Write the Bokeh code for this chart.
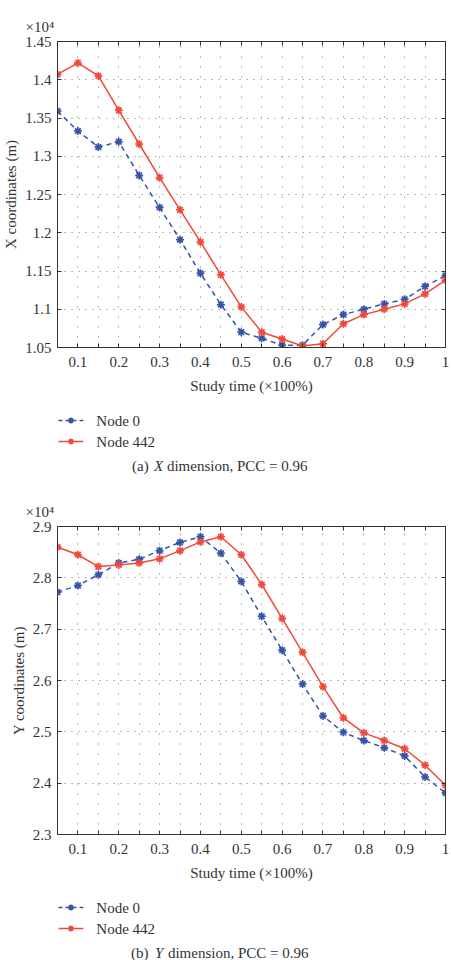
from bokeh.plotting import figure
from bokeh.layouts import column
from bokeh.models import (FixedTicker, LinearAxis, Range1d,
                          CustomJSTickFormatter, Title)
from bokeh.core.properties import value
from bokeh.embed import file_html
from bokeh.resources import INLINE

# ---------------- data ----------------
study_time = [0.05, 0.10, 0.15, 0.20, 0.25, 0.30, 0.35, 0.40, 0.45, 0.50,
              0.55, 0.60, 0.65, 0.70, 0.75, 0.80, 0.85, 0.90, 0.95, 1.00]

# X coordinates (x10^4 m)
node0_x = [1.359, 1.333, 1.312, 1.319, 1.275, 1.233, 1.191, 1.147, 1.106, 1.070,
           1.062, 1.053, 1.053, 1.080, 1.093, 1.100, 1.107, 1.113, 1.130, 1.144]
node442_x = [1.407, 1.422, 1.405, 1.360, 1.316, 1.272, 1.230, 1.188, 1.145, 1.103,
             1.070, 1.061, 1.052, 1.055, 1.081, 1.093, 1.100, 1.107, 1.120, 1.138]

# Y coordinates (x10^4 m)
node0_y = [2.772, 2.785, 2.806, 2.829, 2.836, 2.853, 2.869, 2.880, 2.848, 2.793,
           2.725, 2.659, 2.593, 2.531, 2.499, 2.483, 2.469, 2.453, 2.412, 2.381]
node442_y = [2.860, 2.845, 2.822, 2.825, 2.829, 2.837, 2.853, 2.870, 2.880, 2.845,
             2.787, 2.721, 2.655, 2.588, 2.527, 2.498, 2.483, 2.467, 2.435, 2.396]

x_ticks = [0.1, 0.2, 0.3, 0.4, 0.5, 0.6, 0.7, 0.8, 0.9, 1.0]
x_tick_labels = ["0.1", "0.2", "0.3", "0.4", "0.5", "0.6", "0.7", "0.8", "0.9", "1"]
x_minor_ticks = [0.15, 0.25, 0.35, 0.45, 0.55, 0.65, 0.75, 0.85, 0.95]

yx_ticks = [1.05, 1.10, 1.15, 1.20, 1.25, 1.30, 1.35, 1.40, 1.45]
yx_tick_labels = ["1.05", "1.1", "1.15", "1.2", "1.25", "1.3", "1.35", "1.4", "1.45"]
yy_ticks = [2.3, 2.4, 2.5, 2.6, 2.7, 2.8, 2.9]
yy_tick_labels = ["2.3", "2.4", "2.5", "2.6", "2.7", "2.8", "2.9"]

series_labels = ["Node 0", "Node 442"]

FONT = "Liberation Serif"
BLUE = "#3353a8"
RED = "#f0493a"
TXT = "#333333"


def make_panel(y0, y1, yt, ytl, ylab, frame_h, mtop, mbot):
    p = figure(frame_width=388, frame_height=frame_h,
               min_border_left=55, min_border_right=8,
               min_border_top=mtop, min_border_bottom=mbot,
               x_range=Range1d(0.05, 1.0), y_range=Range1d(y0, y1),
               output_backend="svg", toolbar_location=None,
               background_fill_color="white", border_fill_color="white")
    p.outline_line_color = "#333333"
    p.outline_line_width = 1

    xa = p.xaxis[0]
    xa.ticker = FixedTicker(ticks=x_ticks, minor_ticks=x_minor_ticks)
    xa.major_label_overrides = {t: l for t, l in zip(x_ticks, x_tick_labels)}
    xa.axis_label = "Study time (\u00d7100%)"
    ya = p.yaxis[0]
    ya.ticker = FixedTicker(ticks=yt)
    ya.major_label_overrides = {t: l for t, l in zip(yt, ytl)}
    ya.axis_label = ylab

    for ax in (xa, ya):
        ax.major_tick_in = 4
        ax.major_tick_out = 0
        ax.minor_tick_in = 4
        ax.minor_tick_out = 0
        ax.axis_line_color = "#333333"
        ax.major_tick_line_color = "#333333"
        ax.minor_tick_line_color = "#333333"
        ax.major_label_text_font = FONT
        ax.major_label_text_font_size = "15px"
        ax.major_label_text_color = TXT
        ax.axis_label_text_font = FONT
        ax.axis_label_text_font_size = "15px"
        ax.axis_label_text_font_style = "normal"
        ax.axis_label_text_color = TXT
    xa.major_label_standoff = 9
    xa.axis_label_standoff = 8
    ya.major_label_standoff = 6
    ya.axis_label_standoff = 3

    # mirrored tick marks on top / right (no labels)
    empty = CustomJSTickFormatter(code="return ''")
    top = LinearAxis(ticker=FixedTicker(ticks=x_ticks, minor_ticks=x_minor_ticks),
                     formatter=empty, major_tick_in=4, major_tick_out=0,
                     minor_tick_in=4, minor_tick_out=0, major_label_standoff=0,
                     axis_line_color="#333333", major_tick_line_color="#333333",
                     minor_tick_line_color="#333333")
    right = LinearAxis(ticker=FixedTicker(ticks=yt), formatter=empty,
                       major_tick_in=4, major_tick_out=0, minor_tick_in=0,
                       minor_tick_out=0, major_label_standoff=0,
                       axis_line_color="#333333", major_tick_line_color="#333333")
    p.add_layout(top, "above")
    p.add_layout(right, "right")

    # scale factor shown above the y axis
    p.add_layout(Title(text="\u00d710\u2074", align="left", offset=-32,
                       text_font=FONT, text_font_size="15px",
                       text_font_style="normal", text_color=TXT,
                       standoff=13), "above")

    p.xgrid.ticker = FixedTicker(ticks=x_ticks[:-1] + x_minor_ticks)
    p.ygrid.ticker = FixedTicker(ticks=yt)
    for g, dash in ((p.xgrid, "1 9"), (p.ygrid, "1 6")):
        g.grid_line_color = "#666666"
        g.grid_line_dash = dash
        g.grid_line_width = 1
        g.grid_line_alpha = 0.9
    return p


def add_series(p, ys0, ys1):
    p.line(study_time, ys0, line_color=BLUE, line_width=1.5, line_dash="5 4")
    p.scatter(study_time, ys0, marker="circle", size=7, fill_color=BLUE,
              fill_alpha=0.35, line_color=None)
    p.scatter(study_time, ys0, marker="asterisk", size=8, line_color=BLUE,
              line_width=1.5)
    p.line(study_time, ys1, line_color=RED, line_width=1.5)
    p.scatter(study_time, ys1, marker="circle", size=7, fill_color=RED,
              fill_alpha=0.35, line_color=None)
    p.scatter(study_time, ys1, marker="asterisk", size=8, line_color=RED,
              line_width=1.5)


def make_footer(height, tag, dim, xs):
    # the column aligns this frame with the plot frame above (x 55..443),
    # so the x range is given in page pixels
    f = figure(width=451, height=height, x_range=Range1d(55, 443),
               y_range=Range1d(height, 0), min_border=0,
               x_axis_location=None, y_axis_location=None,
               output_backend="svg", toolbar_location=None,
               background_fill_color="white", border_fill_color="white")
    f.grid.visible = False
    f.outline_line_color = None
    rows = [23, 44]
    cols = [BLUE, RED]
    dashes = ["4 3", "solid"]
    for ry, c, d, lab in zip(rows, cols, dashes, series_labels):
        f.line([56, 81], [ry, ry], line_color=c, line_width=1.5, line_dash=d)
        f.scatter([68.5], [ry], marker="asterisk", size=6, line_color=c,
                  line_width=1.5)
        f.text([94], [ry], text=[lab], text_font=value(FONT),
               text_font_size="15px", text_color=TXT, text_baseline="middle")
    kw = dict(text_font=value(FONT), text_font_size="15px", text_color=TXT,
              text_baseline="middle")
    f.text([xs[0], xs[2]], [68, 68], text=[tag, dim[1]], **kw)
    f.text([xs[1]], [68], text=[dim[0]], text_font_style="italic", **kw)
    return f


p1 = make_panel(1.05, 1.45, yx_ticks, yx_tick_labels, "X coordinates (m)",
                306, 41, 50)
add_series(p1, node0_x, node442_x)
f1 = make_footer(87, "(a)", ("X", "dimension, PCC = 0.96"), (130, 152, 165))

p2 = make_panel(2.3, 2.9, yy_ticks, yy_tick_labels, "Y coordinates (m)",
                308, 42, 50)
add_series(p2, node0_y, node442_y)
f2 = make_footer(76, "(b)", ("Y", "dimension, PCC = 0.96"), (129, 153, 166))

layout = column(p1, f1, p2, f2, spacing=0)
open("out.html", "w").write(file_html(layout, INLINE))
